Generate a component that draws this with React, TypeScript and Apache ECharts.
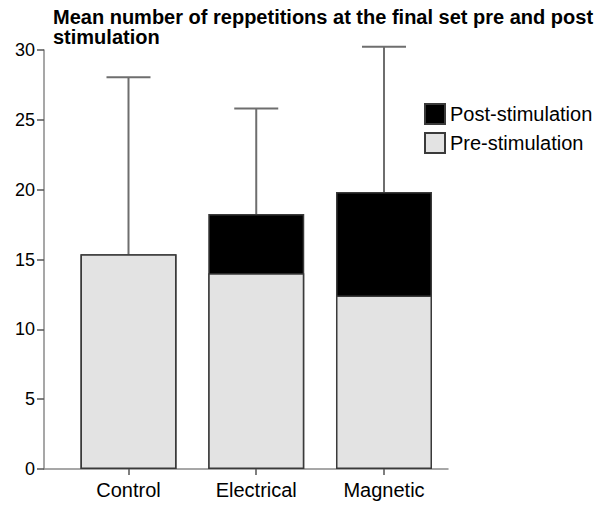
import React, { useEffect, useRef } from "react";
import * as echarts from "echarts";

const categories = ["Control", "Electrical", "Magnetic"];
const preValues = [15.37, 14.01, 12.43];
const postValues = [0, 4.24, 7.4];
const errorUpper = [28.04, 25.82, 30.23];
const yTicks = [0, 5, 10, 15, 20, 25, 30];
const titleLine1 = "Mean number of reppetitions at the final set pre and post";
const titleLine2 = "stimulation";

export default function App() {
  const ref = useRef<HTMLDivElement>(null);
  useEffect(() => {
    if (!ref.current) return;
    const chart = echarts.init(ref.current, null, { renderer: "svg" });
    const font = "'Liberation Sans', Arial, sans-serif";
    const axisColor = "#8a8a8a";
    const totals = preValues.map((p, i) => p + postValues[i]);
    const catIdx = categories.map((_, i) => i);
    const titleStyle = { fontFamily: font, fontSize: 20, fontWeight: "bold", color: "#000", lineHeight: 19 };
    chart.setOption({
      animation: false,
      backgroundColor: "#ffffff",
      title: {
        text: titleLine1,
        subtext: titleLine2,
        left: 48,
        top: 2,
        itemGap: 0,
        textStyle: titleStyle,
        subtextStyle: titleStyle,
      },
      legend: {
        orient: "vertical",
        left: 419,
        top: 98,
        itemWidth: 20,
        itemHeight: 20,
        itemGap: 7,
        icon: "rect",
        data: ["Post-stimulation", "Pre-stimulation"],
        textStyle: { fontFamily: font, fontSize: 20, color: "#000" },
      },
      grid: { left: 44, top: 50, width: 404, height: 419 },
      xAxis: {
        type: "value",
        min: -0.6614,
        max: 2.501,
        axisLine: { show: true, onZero: false, lineStyle: { color: axisColor, width: 1.5 } },
        axisTick: { show: true, customValues: catIdx, length: 6, lineStyle: { color: "#555", width: 1.5 } },
        axisLabel: {
          customValues: catIdx,
          formatter: (v: number) => categories[Math.round(v)] ?? "",
          fontFamily: font,
          fontSize: 20,
          color: "#000",
          margin: 11,
        },
        splitLine: { show: false },
      },
      yAxis: {
        type: "value",
        min: yTicks[0],
        max: yTicks[yTicks.length - 1],
        interval: 5,
        axisLine: { show: true, onZero: false, lineStyle: { color: axisColor, width: 1.5 } },
        axisTick: { show: true, length: 7, lineStyle: { color: "#555", width: 1.5 } },
        axisLabel: { fontFamily: font, fontSize: 18, color: "#000", margin: 9 },
        splitLine: { show: false },
      },
      series: [
        {
          name: "Post-stimulation",
          type: "bar",
          barWidth: 96,
          barGap: "-100%",
          data: totals.map((v, i) => [i, v]),
          itemStyle: { color: "#000", borderColor: "#3a3a3a", borderWidth: 1.5 },
        },
        {
          name: "Pre-stimulation",
          type: "bar",
          barWidth: 96,
          barGap: "-100%",
          data: preValues.map((v, i) => [i, v]),
          itemStyle: { color: "#e3e3e3", borderColor: "#3a3a3a", borderWidth: 1.5 },
        },
        {
          name: "error",
          type: "custom",
          clip: false,
          z: 1,
          data: totals.map((t, i) => [i, t, errorUpper[i]]),
          encode: { x: 0, y: [1, 2] },
          renderItem: (_params: any, api: any) => {
            const x = api.value(0);
            const lo = api.coord([x, api.value(1)]);
            const hi = api.coord([x, api.value(2)]);
            const half = 22;
            const style = { stroke: "#6e6e6e", lineWidth: 2 };
            return {
              type: "group",
              children: [
                { type: "line", shape: { x1: lo[0], y1: lo[1], x2: hi[0], y2: hi[1] }, style },
                { type: "line", shape: { x1: hi[0] - half, y1: hi[1], x2: hi[0] + half, y2: hi[1] }, style },
              ],
            };
          },
        },
      ],
    });
    return () => chart.dispose();
  }, []);
  return <div ref={ref} style={{ width: 601, height: 505, position: "absolute", left: 0, top: 0 }} />;
}
